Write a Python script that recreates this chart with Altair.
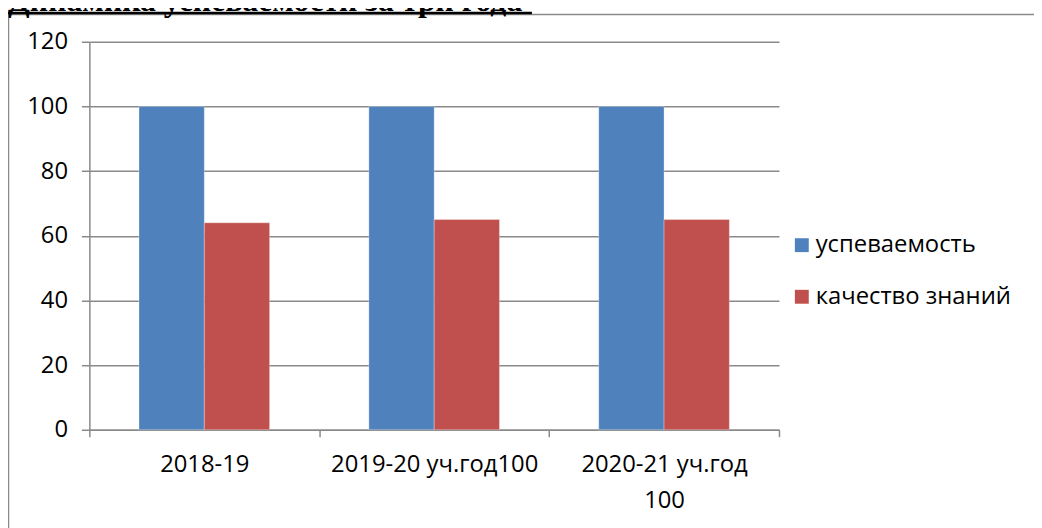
import altair as alt
import pandas as pd

categories = ["2018-19", "2019-20 уч.год100", "2020-21 уч.год 100"]
series_names = ["успеваемость", "качество знаний"]
uspevaemost = [100, 100, 100]
kachestvo = [64, 65, 65]
y_ticks = [0, 20, 40, 60, 80, 100, 120]
title_text = "Динамика успеваемости за три года"
colors = ["#4F81BD", "#C0504D"]

rows = []
for i, c in enumerate(categories):
    rows.append({"cat": c, "series": series_names[0], "value": uspevaemost[i]})
    rows.append({"cat": c, "series": series_names[1], "value": kachestvo[i]})
df = pd.DataFrame(rows)

W, H = 695, 391
FONT = "Open Sans"
GRID = "#8a8a8a"

label_expr = ("indexof(datum.label, ' 100') > 0 ? "
              "[replace(datum.label, ' 100', ''), '100'] : datum.label")

bars = alt.Chart(df).mark_bar(stroke="#ffffff", strokeWidth=0.6, strokeOpacity=0.5).encode(
    x=alt.X("cat:N", sort=categories,
            scale=alt.Scale(paddingInner=0, paddingOuter=0),
            axis=alt.Axis(title=None, labelAngle=0, labelExpr=label_expr,
                          tickBand="extent", tickSize=7, tickColor=GRID, tickWidth=1.5,
                          domainColor=GRID, domainWidth=1.5, grid=False,
                          labelFont=FONT, labelFontSize=24, labelColor="#000000",
                          labelPadding=16, labelLineHeight=36, labelOverlap=False,
                          labelLimit=400)),
    xOffset=alt.XOffset("series:N", sort=series_names,
                        scale=alt.Scale(paddingInner=0, paddingOuter=0.76)),
    y=alt.Y("value:Q", scale=alt.Scale(domain=[0, 120], nice=False),
            axis=alt.Axis(title=None, values=y_ticks, tickSize=8, tickColor=GRID,
                          tickWidth=1.5, domainColor=GRID, domainWidth=1.5,
                          gridColor=GRID, gridWidth=1.5,
                          labelFont=FONT, labelFontSize=24, labelColor="#000000",
                          labelPadding=14)),
    color=alt.Color("series:N", title=None,
                    scale=alt.Scale(domain=series_names, range=colors),
                    legend=alt.Legend(orient="none", legendX=706, legendY=193,
                                      symbolType="square", symbolSize=196,
                                      symbolStrokeWidth=0, symbolOffset=0,
                                      labelFont=FONT, labelFontSize=24,
                                      labelColor="#000000", labelOffset=2,
                                      labelLimit=400,
                                      rowPadding=28, padding=0)),
)

one = pd.DataFrame({"k": [0]})

left_line = alt.Chart(one).mark_rule(color=GRID, strokeWidth=1.5).encode(
    x=alt.value(-81.5), y=alt.value(-27.5), y2=alt.value(H + 200))
top_line = alt.Chart(one).mark_rule(color=GRID, strokeWidth=1.5).encode(
    x=alt.value(-82), x2=alt.value(960), y=alt.value(-27.5))
title = alt.Chart(one).mark_text(text=title_text, font="Liberation Serif",
                                 fontWeight="bold", fontSize=32, align="left",
                                 baseline="alphabetic", color="#000000").encode(
    x=alt.value(-82), y=alt.value(-31))
underline = alt.Chart(one).mark_rule(color="#000000", strokeWidth=2.6).encode(
    x=alt.value(-82), x2=alt.value(446), y=alt.value(-29))

chart = alt.layer(bars, left_line, top_line, title, underline).properties(
    width=W, height=H,
    autosize=alt.AutoSizeParams(type="none"),
    padding={"left": 82, "top": 32, "right": 257, "bottom": 97},
).configure_view(strokeWidth=0)

chart.save("out.html", embed_options={"renderer": "svg", "actions": False})
